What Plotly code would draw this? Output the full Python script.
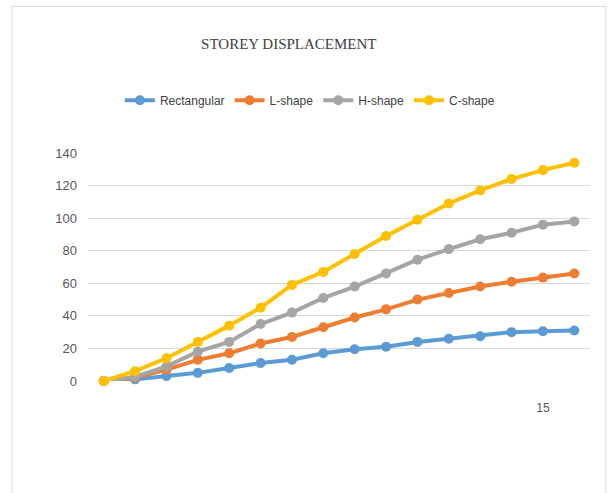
import plotly.graph_objects as go

# Storey numbers and lateral displacement per building plan shape
storeys = list(range(1, 17))
rectangular = [0, 1, 3, 5, 8, 11, 13, 17, 19.5, 21, 24, 26, 27.5, 30, 30.5, 31]
l_shape = [0, 2, 7, 13, 17, 23, 27, 33, 39, 44, 50, 54, 58, 61, 63.5, 66]
h_shape = [0, 2.5, 9, 18, 24, 35, 42, 51, 58, 66, 74.5, 81, 87, 91, 96, 98]
c_shape = [0, 6, 14, 24, 34, 45, 59, 67, 78, 89, 99, 109, 117, 124, 129.5, 134]

series = [
    ("Rectangular", rectangular, "#5B9BD5"),
    ("L-shape", l_shape, "#ED7D31"),
    ("H-shape", h_shape, "#A5A5A5"),
    ("C-shape", c_shape, "#FFC000"),
]

y_ticks = [0, 20, 40, 60, 80, 100, 120, 140]
x_ticks = [15]

narrow = "Liberation Sans Narrow, Arial Narrow, Liberation Sans, sans-serif"

fig = go.Figure()
for name, vals, color in series:
    fig.add_trace(go.Scatter(
        x=storeys, y=vals, name=name, mode="lines+markers",
        line=dict(color=color, width=4),
        marker=dict(color=color, size=10),
        cliponaxis=False,
    ))

fig.update_layout(
    width=608, height=493,
    margin=dict(l=88, r=18, t=153, b=112),
    paper_bgcolor="white", plot_bgcolor="white",
    title=dict(text="STOREY DISPLACEMENT", x=0.475, xanchor="center",
               y=0.911, yanchor="middle",
               font=dict(family="Liberation Serif, serif", size=15, color="#404040")),
    legend=dict(orientation="h", x=0.442, xanchor="center", y=1.231, yanchor="middle",
                font=dict(family=narrow, size=12, color="#404040"),
                itemwidth=30, bgcolor="rgba(0,0,0,0)"),
    showlegend=True,
    xaxis=dict(range=[0.5, 16.5], tickvals=x_ticks, ticktext=[str(t) for t in x_ticks],
               showgrid=False, zeroline=False, showline=False, ticks="",
               ticklabelstandoff=18,
               tickfont=dict(family=narrow, size=12, color="#595959")),
    yaxis=dict(range=[0, 140], tickvals=y_ticks, showgrid=True, gridcolor="#d9d9d9",
               gridwidth=1, zeroline=False, showline=False, ticks="",
               ticklabelstandoff=10,
               tickfont=dict(family=narrow, size=13, color="#595959")),
    shapes=[dict(type="rect", xref="paper", yref="paper",
                 x0=-0.1514, x1=1.0319, y0=-0.55, y1=1.6426,
                 line=dict(color="#d9d9d9", width=1), fillcolor="rgba(0,0,0,0)",
                 layer="below")],
)

fig.write_html("out.html")
